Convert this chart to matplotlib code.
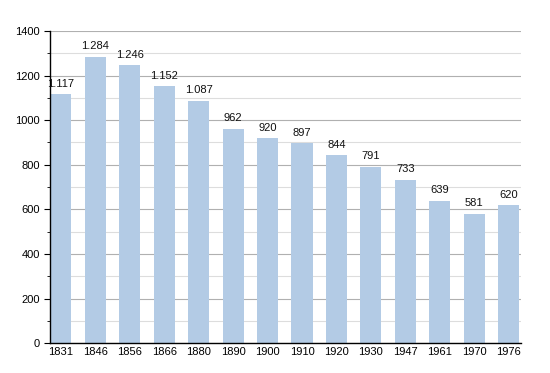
import matplotlib
matplotlib.use('Agg')
import matplotlib.pyplot as plt
from matplotlib.ticker import MultipleLocator

years = ['1831', '1846', '1856', '1866', '1880', '1890', '1900', '1910',
         '1920', '1930', '1947', '1961', '1970', '1976']
population = [1117, 1284, 1246, 1152, 1087, 962, 920, 897, 844, 791, 733, 639, 581, 620]

plt.rcParams['font.family'] = ['Liberation Sans', 'DejaVu Sans']

fig = plt.figure(figsize=(5.5, 3.73), dpi=100)
ax = fig.add_axes([0.091, 0.080, 0.856, 0.837])

x = range(len(years))
ax.bar(x, population, width=0.61, color='#b3cbe5', zorder=2)

for i, v in enumerate(population):
    label = f'{v:,}'.replace(',', '.')
    ax.text(i, v + 24, label, ha='center', va='bottom', fontsize=8, color='#111111')

ax.set_ylim(0, 1400)
ax.set_xlim(-0.31, 13.35)
ax.yaxis.set_major_locator(MultipleLocator(200))
ax.yaxis.set_minor_locator(MultipleLocator(100))
ax.grid(axis='y', which='major', color='#b0b0b0', linewidth=0.8, zorder=0)
ax.grid(axis='y', which='minor', color='#dddddd', linewidth=0.8, zorder=0)

ax.set_xticks(list(x))
ax.set_xticklabels(years)
ax.tick_params(axis='x', length=0, labelsize=8, pad=3)
ax.tick_params(axis='y', which='major', length=4, labelsize=8, direction='out')
ax.tick_params(axis='y', which='minor', length=2, direction='out')

for side in ('top', 'right'):
    ax.spines[side].set_visible(False)
ax.spines['left'].set_linewidth(1)
ax.spines['bottom'].set_linewidth(1)

fig.savefig('out.png', dpi=100)
